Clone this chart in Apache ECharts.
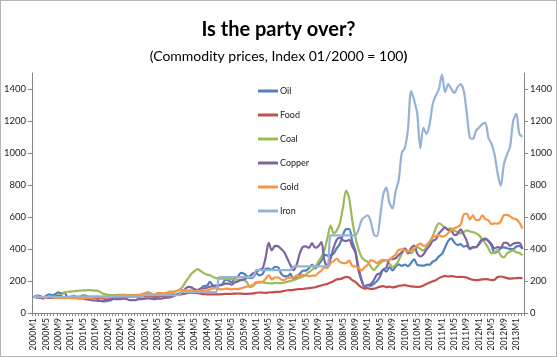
<!DOCTYPE html>
<html><head><meta charset="utf-8">
<script src="https://cdn.jsdelivr.net/npm/echarts@6/dist/echarts.min.js"></script>
<style>html,body{margin:0;padding:0;background:#fff}#c{width:555px;height:355px;border:1px solid #b5b5b5}</style>
</head><body><div id="c"></div>
<script>
// Categories: monthly 2000M1 .. 2013M3
var startYear = 2000, monthCount = 159;
var categories = [];
for (var k = 0; k < monthCount; k++) { categories.push((startYear + Math.floor(k / 12)) + 'M' + (k % 12 + 1)); }
var yTicks = [0, 200, 400, 600, 800, 1000, 1200, 1400];
var seriesNames = ['Oil', 'Food', 'Coal', 'Copper', 'Gold', 'Iron'];

var oil = [
100,109,108,89,107,117,112,118,129,122,127,99,
100,108,96,101,110,108,97,100,100,80,74,73,
76,80,93,101,100,95,101,103,111,108,95,111,
122,129,119,98,101,108,111,117,106,116,113,117,
123,121,133,131,147,139,151,169,170,195,169,156,
174,179,208,204,192,218,227,251,246,229,218,223,
249,235,244,276,278,270,289,287,246,230,229,244,
211,226,244,264,265,280,303,278,302,325,363,359,
361,372,405,433,489,524,525,447,389,286,209,163,
176,169,184,199,230,272,258,287,267,290,304,295,
302,293,313,336,302,297,296,302,302,321,331,354,
370,410,450,467,440,425,430,415,420,405,410,412,
430,455,467,450,420,375,385,405,410,405,400,400,
415,420,400];
var food = [
100,99,98,97,98,96,95,96,97,96,96,97,
98,96,95,94,94,95,97,96,95,93,94,95,
96,95,96,95,95,97,100,102,104,104,103,103,
104,105,104,103,105,106,104,105,108,110,113,114,
118,122,126,127,126,124,121,118,117,116,116,117,
117,118,120,119,120,121,122,121,120,120,121,123,
126,128,127,126,128,129,131,132,134,138,142,143,
145,148,149,150,153,156,158,161,168,172,178,182,
190,200,210,212,218,226,222,205,195,175,160,152,
155,150,152,158,165,168,162,165,160,163,170,172,
174,170,166,165,163,164,172,182,190,198,205,218,
226,232,228,230,228,225,226,225,222,212,208,205,
207,210,212,210,205,208,225,228,224,218,215,216,
218,219,218];
var coal = [
100,100,100,101,102,102,103,104,108,112,128,133,
134,136,138,140,141,142,143,142,140,137,125,118,
113,112,112,113,114,114,113,112,112,113,114,114,
113,112,113,114,115,116,118,120,124,128,135,143,
160,190,218,245,262,274,262,249,240,236,225,218,
216,214,213,212,212,210,208,206,205,190,162,170,
187,190,192,188,186,185,188,187,187,190,195,200,
205,212,220,226,240,255,270,290,319,350,392,470,
547,498,516,560,661,765,715,579,475,400,350,330,
320,290,268,290,311,325,330,310,288,300,330,370,
404,385,373,395,412,400,392,415,443,480,530,560,
550,529,525,529,515,505,498,505,516,510,505,498,
485,460,435,405,373,380,392,360,348,373,385,392,
380,375,361];
var copper = [
100,98,95,94,98,95,98,101,108,103,97,101,
96,96,94,91,91,86,83,79,78,75,78,80,
82,85,88,86,87,90,88,80,80,81,86,87,
90,91,90,86,90,90,93,96,97,104,112,120,
132,150,163,160,149,145,153,154,158,164,170,171,
172,177,184,184,177,191,197,207,210,221,232,249,
257,271,277,347,438,391,419,418,400,380,340,300,
268,300,370,412,416,407,437,408,416,443,330,290,
340,410,459,472,455,449,457,416,378,267,202,167,
175,181,207,240,248,272,284,335,337,342,363,379,
402,372,405,421,372,353,366,396,419,451,460,497,
518,536,518,516,487,493,523,491,451,399,412,411,
437,459,460,451,430,403,412,408,439,438,419,433,
438,438,400];
var gold = [
100,105,100,98,96,100,99,96,96,95,93,95,
93,92,92,92,95,95,94,96,99,99,97,97,
99,104,103,106,110,113,110,109,112,111,112,117,
125,126,119,115,125,125,123,126,133,133,136,143,
145,142,142,142,135,138,140,140,142,147,154,155,
149,148,152,151,148,151,149,154,160,165,167,179,
193,195,195,214,237,209,222,222,210,206,220,221,
221,233,230,238,234,230,233,233,250,265,283,282,
312,324,340,319,312,312,329,294,291,283,267,286,
301,331,324,312,326,332,328,333,349,366,395,398,
392,384,391,403,423,433,419,426,446,471,481,488,
477,482,500,517,530,537,552,616,622,585,610,580,
581,611,587,579,556,560,559,572,612,613,604,591,
586,565,528];
var iron = [
100,100,100,100,100,100,100,100,100,100,100,100,
104,104,104,104,104,104,104,104,104,104,104,104,
102,102,102,102,102,102,102,102,102,102,102,102,
111,111,111,111,111,111,111,111,111,111,111,111,
131,131,131,131,131,131,131,131,131,131,131,131,
224,224,224,224,224,224,224,224,224,224,224,224,
268,268,268,268,268,268,268,268,268,268,268,268,
292,292,292,292,292,292,292,292,292,292,292,292,
485,485,485,485,485,485,485,485,485,520,580,600,
610,570,490,480,600,740,784,690,653,760,830,1000,
1033,1150,1387,1330,1244,1030,1157,1120,1180,1306,1360,1400,
1490,1380,1431,1400,1375,1410,1431,1390,1250,1095,1089,1139,
1160,1180,1188,1095,1058,990,870,796,930,990,1040,1200,
1244,1120,1101];

var colors = ['#4F81BD', '#C0504D', '#9BBB59', '#8064A2', '#F79646', '#95B3D7'];
var values = [oil, food, coal, copper, gold, iron];
var font = 'Lato, "Open Sans", sans-serif';
var axisGray = '#878787';

function yAxisDef(pos) {
  return {
    type: 'value', position: pos, min: 0, max: 1500, interval: 100,
    splitLine: { show: false },
    axisLine: { show: true, lineStyle: { color: axisGray, width: 1 } },
    axisTick: { show: true, length: 4, inside: false, customValues: yTicks, lineStyle: { color: axisGray } },
    axisLabel: { customValues: yTicks, fontSize: 9.5, color: '#222', fontFamily: font, margin: 6,
      formatter: function (v) { return String(v); } }
  };
}

var chart = echarts.init(document.getElementById('c'), null, { renderer: 'canvas' });
chart.setOption({
  animation: false,
  backgroundColor: '#fff',
  title: [
    { text: 'Is the party over?', left: 'center', top: 14,
      textStyle: { fontFamily: font, fontWeight: 'bold', fontSize: 20, color: '#000' } },
    { text: '(Commodity prices, Index 01/2000 = 100{b|)}', left: 'center', top: 43,
      textStyle: { fontFamily: font, fontWeight: 'normal', fontSize: 14, color: '#000',
        rich: { b: { fontFamily: font, fontWeight: 'bold', fontSize: 14, color: '#000' } } } }
  ],
  legend: {
    data: seriesNames, orient: 'vertical', left: 252, top: 79,
    icon: 'rect', itemWidth: 20, itemHeight: 3, itemGap: 12,
    textStyle: { fontFamily: font, fontSize: 9, color: '#222', lineHeight: 12, padding: [0, 0, 0, -3] }
  },
  grid: { left: 31, right: 32, top: 72, bottom: 43, containLabel: false },
  xAxis: {
    type: 'category', data: categories, boundaryGap: true,
    axisLine: { lineStyle: { color: axisGray } },
    axisTick: { show: true, interval: 0, length: 3, lineStyle: { color: axisGray } },
    axisLabel: { interval: 3, rotate: 90, fontSize: 8.5, color: '#222', fontFamily: font, margin: 5 }
  },
  yAxis: [yAxisDef('left'), yAxisDef('right')],
  series: seriesNames.map(function (n, i) {
    return { name: n, type: 'line', data: values[i], yAxisIndex: 0, symbol: 'none', smooth: 0.3,
      lineStyle: { color: colors[i], width: 2.2 }, itemStyle: { color: colors[i] } };
  })
});
</script></body></html>
